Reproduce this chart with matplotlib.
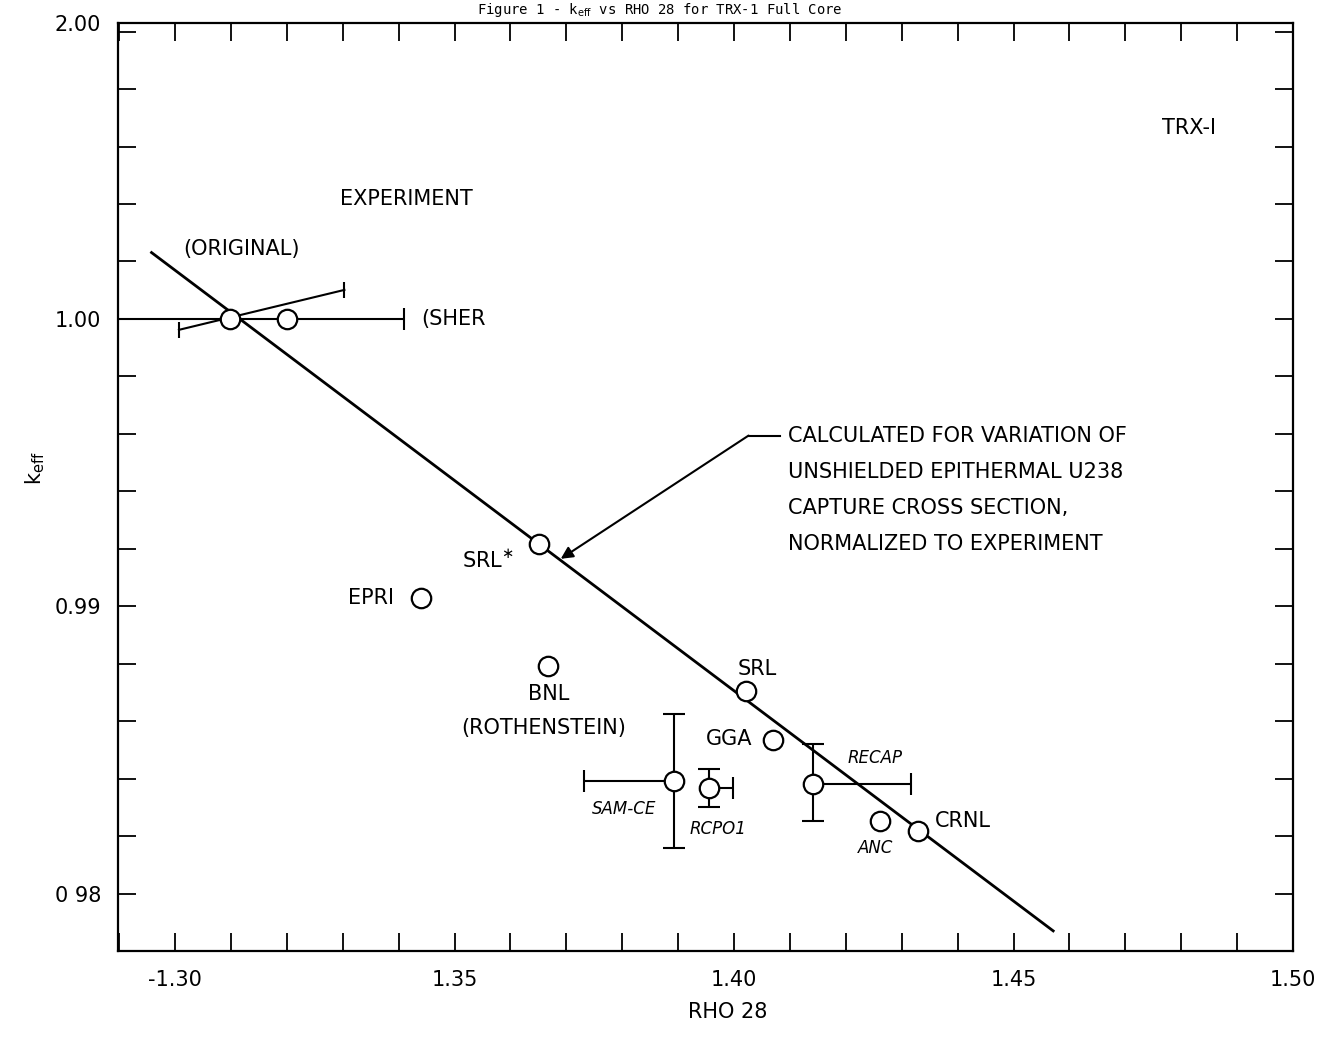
import matplotlib
matplotlib.use("Agg")
import matplotlib.pyplot as plt
from matplotlib.ticker import FixedLocator, MultipleLocator

# points (RHO 28, k_eff)
labels = ["(ORIGINAL)", "(SHER", "SRL*", "EPRI", "BNL", "SRL", "GGA",
          "SAM-CE", "RCPO1", "RECAP", "ANC", "CRNL"]
rho = [1.3098, 1.3200, 1.3651, 1.3440, 1.3667, 1.4021, 1.4069,
       1.3892, 1.3955, 1.4141, 1.4262, 1.4330]
keff = [1.0000, 1.0000, 0.99218, 0.99030, 0.98793, 0.98706, 0.98535,
        0.98392, 0.98368, 0.98382, 0.98253, 0.98218]

# error bars ([low], [high])
sher_xerr = [[0.035], [0.0210]]
samce_xerr = [[0.0161], [0.0]]
samce_yerr = [[0.00233], [0.00233]]
rcpo_xerr = [[0.0], [0.0043]]
rcpo_yerr = [[0.00066], [0.00066]]
recap_xerr = [[0.0], [0.0175]]
recap_yerr = [[0.00129], [0.00139]]

# tilted bar through the original experiment point
tilt_rho = [1.3007, 1.3303]
tilt_keff = [0.99962, 1.00101]

# calculated line (U238 capture cross section variation)
calc_rho = [1.2958, 1.4571]
calc_keff = [1.00231, 0.97870]

x_major = [1.30, 1.35, 1.40, 1.45, 1.50]
x_major_labels = ["-1.30", "1.35", "1.40", "1.45", "1.50"]
y_major = [0.98, 0.99, 1.00, 1.0103]
y_major_labels = ["0 98", "0.99", "1.00", "2.00"]

W, H = 1332, 1039
fig = plt.figure(figsize=(W / 100, H / 100), dpi=100)
ax = fig.add_axes([118 / W, 1 - 951 / H, (1293 - 118) / W, (951 - 23) / H])

ax.plot(calc_rho, calc_keff, color="black", lw=2.0, zorder=2)
ax.plot(tilt_rho, tilt_keff, color="black", lw=1.5, zorder=2)
ax.plot(tilt_rho, tilt_keff, ls="none", marker="|", ms=12, mew=1.5, color="black", zorder=2)

eb = dict(fmt="none", ecolor="black", elinewidth=1.5, capsize=8, capthick=1.5, zorder=2)
ax.errorbar([rho[1]], [keff[1]], xerr=sher_xerr, **eb)
ax.errorbar([rho[7]], [keff[7]], xerr=samce_xerr, yerr=samce_yerr, **eb)
ax.errorbar([rho[8]], [keff[8]], xerr=rcpo_xerr, yerr=rcpo_yerr, **eb)
ax.errorbar([rho[9]], [keff[9]], xerr=recap_xerr, yerr=recap_yerr, **eb)

ax.plot(rho, keff, ls="none", marker="o", ms=14, mfc="white", mec="black", mew=1.6, zorder=3)

# point labels
font = dict(fontsize=15, color="black", ha="center", va="center")
hand = dict(fontsize=12, color="black", ha="center", va="center", style="italic")
ax.text(1.3119, 1.00245, labels[0], **font)
ax.text(1.3440, 1.0000, labels[1], fontsize=15, ha="left", va="center")
ax.text(1.3560, 0.99159, "SRL$^{\\ast}$", **font)
ax.text(1.3351, 0.99030, labels[3], **font)
ax.text(1.3669, 0.98696, labels[4], **font)
ax.text(1.3660, 0.98577, "(ROTHENSTEIN)", **font)
ax.text(1.4042, 0.98782, labels[5], **font)
ax.text(1.3991, 0.98538, labels[6], **font)
ax.text(1.3803, 0.98295, labels[7], **hand)
ax.text(1.3971, 0.98226, labels[8], **hand)
ax.text(1.4253, 0.98473, labels[9], **hand)
ax.text(1.4253, 0.98160, labels[10], **hand)
ax.text(1.4360, 0.98253, labels[11], fontsize=15, ha="left", va="center")

ax.text(1.3414, 1.00419, "EXPERIMENT", **font)
ax.text(1.4814, 1.00665, "TRX-I", **font)

note = ["CALCULATED FOR VARIATION OF",
        "UNSHIELDED EPITHERMAL U238",
        "CAPTURE CROSS SECTION,",
        "NORMALIZED TO EXPERIMENT"]
note_y = [0.99594, 0.99466, 0.99342, 0.99218]
for s, y in zip(note, note_y):
    ax.text(1.4096, y, s, fontsize=15, ha="left", va="center")

# leader and arrow to the calculated line
ax.plot([1.4026, 1.4083], [0.99594, 0.99594], color="black", lw=1.5)
ax.annotate("", xy=(1.3690, 0.99165), xytext=(1.4026, 0.99594),
            arrowprops=dict(arrowstyle="-|>", color="black", lw=1.5,
                            mutation_scale=18, shrinkA=0, shrinkB=0))

ax.set_xlim(1.2898, 1.50)
ax.set_ylim(0.97800, 1.0103)

ax.xaxis.set_major_locator(FixedLocator(x_major))
ax.set_xticklabels(x_major_labels)
ax.xaxis.set_minor_locator(MultipleLocator(0.01))
ax.yaxis.set_major_locator(FixedLocator(y_major))
ax.set_yticklabels(y_major_labels)
ax.yaxis.set_minor_locator(MultipleLocator(0.002))
ax.tick_params(which="both", direction="in", top=True, right=True,
               length=13, width=1.3, labelsize=15)
ax.tick_params(axis="x", which="major", pad=14)
ax.tick_params(axis="y", which="major", pad=12)
for sp in ax.spines.values():
    sp.set_linewidth(1.6)

fig.text(728 / W, 1 - 1012 / H, "RHO 28", fontsize=15, ha="center", va="center")
fig.text(35 / W, 1 - 468 / H, r"k$_{\mathrm{eff}}$", fontsize=15, rotation=90,
         ha="center", va="center")
fig.text(660 / W, 1 - 1 / H, r"Figure 1 - k$_{\mathrm{eff}}$ vs RHO 28 for TRX-1 Full Core",
         fontsize=10, family="DejaVu Sans Mono", ha="center", va="top")

fig.savefig("out.png", dpi=100, facecolor="white")
